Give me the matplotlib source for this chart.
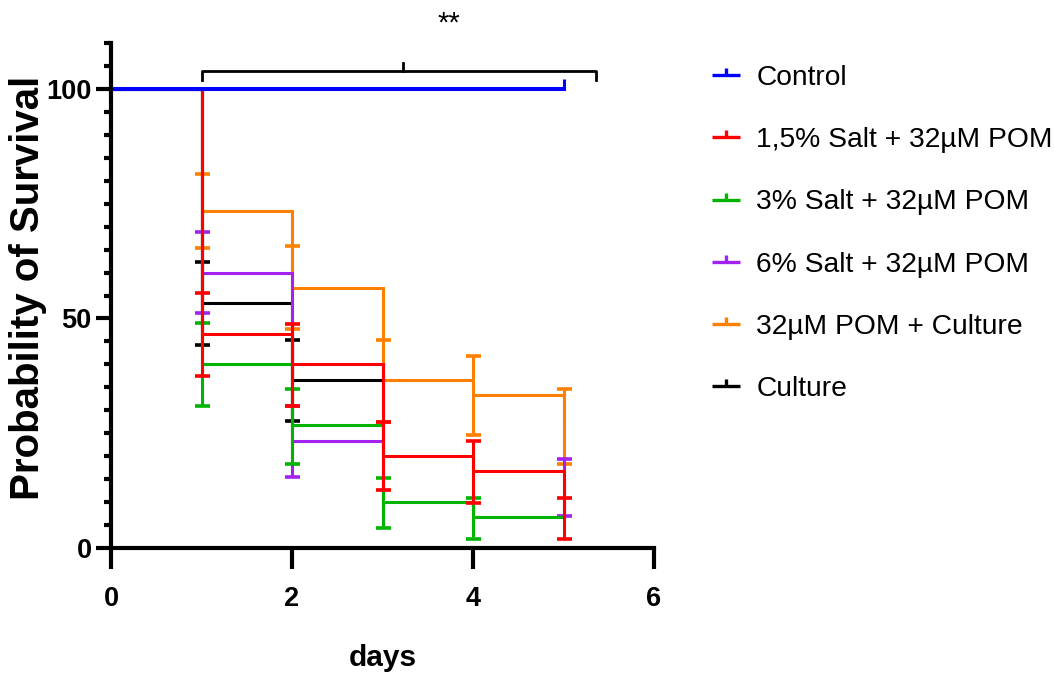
import matplotlib
matplotlib.use("Agg")
import matplotlib.pyplot as plt
from matplotlib.path import Path
from matplotlib.lines import Line2D

# Kaplan-Meier steps
labels = ["Control", "1,5% Salt + 32µM POM", "3% Salt + 32µM POM",
          "6% Salt + 32µM POM", "32µM POM + Culture", "Culture"]
colors = ["#0000ff", "#ff0000", "#00b400", "#a422f0", "#ff8000", "#000000"]

control_days = [0, 1, 2, 3, 4, 5]
control_surv = [100, 100, 100, 100, 100, 100]
control_err_days = [5]
control_err_mid = [100]
control_err_lo = [100]
control_err_hi = [102.2]

salt15_days = [0, 1, 2, 3, 4, 5]
salt15_surv = [100, 46.7, 40.0, 20.0, 16.7, 6.7]
salt15_err_days = [1, 2, 3, 4, 5]
salt15_err_mid = [46.7, 40.0, 20.0, 16.7, 6.7]
salt15_err_lo = [37.5, 31.0, 12.6, 9.7, 1.9]
salt15_err_hi = [55.6, 48.9, 27.4, 23.3, 11.0]

salt3_days = [0, 1, 2, 3, 4, 5]
salt3_surv = [100, 40.0, 26.7, 10.0, 6.7, 6.7]
salt3_err_days = [1, 2, 3, 4]
salt3_err_mid = [40.0, 26.7, 10.0, 6.7]
salt3_err_lo = [30.9, 18.4, 4.4, 1.9]
salt3_err_hi = [49.0, 34.6, 15.3, 11.0]

salt6_days = [0, 1, 2, 3]
salt6_surv = [100, 60.0, 23.3, 23.3]
salt6_err_days = [1, 2, 5]
salt6_err_mid = [60.0, 23.3, 13.3]
salt6_err_lo = [51.1, 15.5, 7.0]
salt6_err_hi = [68.9, 31.0, 19.4]

pomcult_days = [0, 1, 2, 3, 4, 5]
pomcult_surv = [100, 73.3, 56.7, 36.7, 33.3, 26.7]
pomcult_err_days = [1, 2, 3, 4, 5]
pomcult_err_mid = [73.3, 56.7, 36.7, 33.3, 26.7]
pomcult_err_lo = [65.3, 47.7, 27.4, 24.6, 18.4]
pomcult_err_hi = [81.4, 65.8, 45.3, 41.9, 34.6]

culture_days = [0, 1, 2, 3]
culture_surv = [100, 53.3, 36.7, 36.7]
culture_err_days = [1, 2]
culture_err_mid = [53.3, 36.7]
culture_err_lo = [44.2, 27.7]
culture_err_hi = [62.4, 45.3]

series = [
    (control_days, control_surv, control_err_days, control_err_mid, control_err_lo, control_err_hi),
    (salt15_days, salt15_surv, salt15_err_days, salt15_err_mid, salt15_err_lo, salt15_err_hi),
    (salt3_days, salt3_surv, salt3_err_days, salt3_err_mid, salt3_err_lo, salt3_err_hi),
    (salt6_days, salt6_surv, salt6_err_days, salt6_err_mid, salt6_err_lo, salt6_err_hi),
    (pomcult_days, pomcult_surv, pomcult_err_days, pomcult_err_mid, pomcult_err_lo, pomcult_err_hi),
    (culture_days, culture_surv, culture_err_days, culture_err_mid, culture_err_lo, culture_err_hi),
]

font = "Liberation Sans"

fig = plt.figure(figsize=(10.54, 6.77), dpi=100)
ax = fig.add_axes([111 / 1054, 1 - 548 / 677, 543 / 1054, 505 / 677])

# draw last group first so that Control ends up on top
for i in reversed(range(len(series))):
    d, s, ed, em, elo, ehi = series[i]
    c = colors[i]
    ax.step(d, s, where="post", color=c, lw=2.2 if i else 2.9, solid_joinstyle="miter")
    yerr = [[m - lo for m, lo in zip(em, elo)], [hi - m for m, hi in zip(em, ehi)]]
    cap = 0 if i == 0 else 5.4
    ax.errorbar(ed, em, yerr=yerr, fmt="none", ecolor=c, elinewidth=2.2,
                capsize=cap, capthick=2.6)

ax.set_xlim(0, 6)
ax.set_ylim(0, 110)
ax.set_xticks([0, 2, 4, 6])
ax.set_yticks([0, 50, 100])
ax.set_yticks(range(0, 111, 5), minor=True)
for sp in ["top", "right"]:
    ax.spines[sp].set_visible(False)
for sp in ["left", "bottom"]:
    ax.spines[sp].set_linewidth(3)
ax.tick_params(axis="y", which="major", length=11, width=3, pad=3)
ax.tick_params(axis="y", which="minor", length=5, width=3)
ax.tick_params(axis="x", which="major", length=15, width=3, pad=12)
for lab in ax.get_xticklabels() + ax.get_yticklabels():
    lab.set_fontfamily(font)
    lab.set_fontweight("bold")
    lab.set_fontsize(19.5)

ax.set_xlabel("days", family=font, fontweight="bold", fontsize=21.5)
ax.xaxis.set_label_coords(0.5, -0.19)
ax.set_ylabel("Probability of Survival", family=font, fontweight="bold", fontsize=29)
ax.yaxis.set_label_coords(-0.117, 0.515)

# significance bracket above the curves
ax.plot([1, 1, 5.36, 5.36], [102.0, 104.0, 104.0, 102.0], color="black", lw=2,
        clip_on=False, solid_joinstyle="round")
ax.plot([3.23, 3.23], [104.0, 105.7], color="black", lw=2, clip_on=False)
ax.text(3.73, 114.3, "**", ha="center", va="center", fontsize=21,
        family=font, clip_on=False)

# legend handles: short line with a small upward stub
stub = Path([(-1, 0), (1, 0), (0, 0), (0, 0.5)],
            [Path.MOVETO, Path.LINETO, Path.MOVETO, Path.LINETO])
handles = [Line2D([], [], color=c, marker=stub, markersize=20, markeredgewidth=2.4,
                  linestyle="none") for c in colors]
fig.legend(handles, labels, loc="upper left", bbox_to_anchor=(711 / 1054, 1 - 65 / 677),
           frameon=False, prop={"family": font, "size": 20.3}, borderpad=0,
           borderaxespad=0, handlelength=1.05, handletextpad=0.56, labelspacing=1.285,
           numpoints=1)

fig.savefig("out.png", dpi=100)
